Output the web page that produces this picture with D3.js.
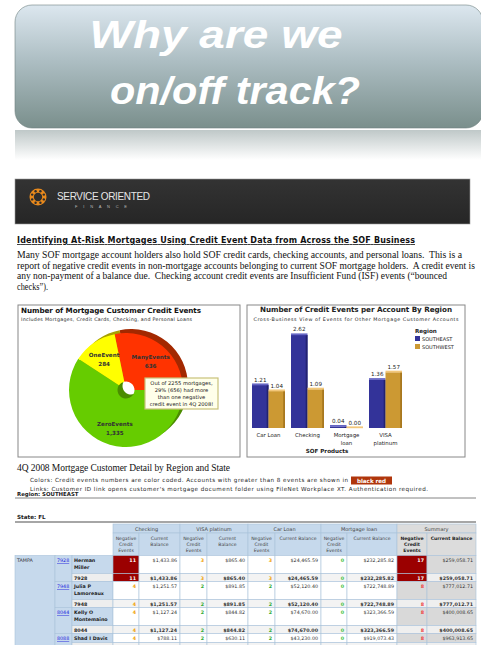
<!DOCTYPE html>
<html>
<head>
<meta charset="utf-8">
<script src="https://cdn.jsdelivr.net/npm/d3@7"></script>
<style>
body{margin:0;background:#fff;}
svg{display:block;}
</style>
</head>
<body>
<div id="slide"></div>
<script>
// pie : credit events per mortgage customer
var pieLabels = ["ManyEvents", "ZeroEvents", "OneEvent"];
var pieValues = [636, 1335, 284];
var pieValueText = ["636", "1,335", "284"];

// bars : events per account by region
var products = ["Car Loan", "Checking", "Mortgage loan", "VISA platinum"];
var productLines = [["Car Loan"], ["Checking"], ["Mortgage", "loan"], ["VISA", "platinum"]];
var regions = ["SOUTHEAST", "SOUTHWEST"];
var southeast = [1.21, 2.62, 0.04, 1.36];
var southwest = [1.04, 1.09, 0.00, 1.57];

// detail table
var tableGroups = ["Checking", "VISA platinum", "Car Loan", "Mortgage loan", "Summary"];
var customerCity = "TAMPA";
var customerIds = ["7928", "7948", "8044", "8088"];
var customerNames = [["Herman", "Miller"], ["Julia P", "Lamoreaux"], ["Kelly O", "Montemaino"], ["Shad I Davis"]];
var customerEvents = [[11, 3, 3, 0, 17], [4, 2, 2, 0, 8], [4, 2, 2, 0, 8], [4, 2, 2, 0, 8]];
var customerBalances = [
  ["$1,433.86", "$865.40", "$24,465.59", "$232,285.82", "$259,058.71"],
  ["$1,251.57", "$891.85", "$52,120.40", "$722,748.89", "$777,012.71"],
  ["$1,127.24", "$844.82", "$74,670.00", "$323,366.59", "$400,008.65"],
  ["$788.11", "$630.11", "$43,230.00", "$919,073.43", "$963,913.65"]];

var W = 481, H = 645;
var svg = d3.select("#slide").append("svg").attr("width", W).attr("height", H);
var defs = svg.append("defs");

function grad(id, stops){
  var g = defs.append("linearGradient").attr("id", id).attr("x1", 0).attr("y1", 0).attr("x2", 0).attr("y2", 1);
  stops.forEach(function(s){ g.append("stop").attr("offset", s[0]).attr("stop-color", s[1]); });
}
grad("banner", [["0%", "#dce7ef"], ["45%", "#adbec3"], ["100%", "#7a8f8c"]]);
grad("reflect", [["0%", "#bfc8c8"], ["100%", "#ffffff"]]);
grad("header", [["0%", "#333"], ["100%", "#262626"]]);

function txt(g, x, y, s, o){
  o = o || {};
  var t = g.append("text").attr("x", x).attr("y", y).text(s)
    .attr("font-family", o.family || "DejaVu Sans")
    .attr("font-size", o.size || 6)
    .attr("fill", o.fill || "#222");
  if(o.weight) t.attr("font-weight", o.weight);
  if(o.style) t.attr("font-style", o.style);
  if(o.anchor) t.attr("text-anchor", o.anchor);
  if(o.len) t.attr("textLength", o.len).attr("lengthAdjust", o.adjust || "spacing");
  if(o.deco) t.attr("text-decoration", o.deco);
  return t;
}

// ---- slide title
svg.append("rect").attr("x", 15).attr("y", 130).attr("width", 470).attr("height", 30).attr("fill", "url(#reflect)");
svg.append("rect").attr("x", 15).attr("y", 5).attr("width", 468).attr("height", 123).attr("rx", 17)
  .attr("fill", "url(#banner)").attr("stroke", "#6f8280").attr("stroke-width", 0.6);
txt(svg, 216, 48, "Why are we", {family: "Liberation Sans", size: 39, weight: "bold", style: "italic", fill: "#fff", anchor: "middle", len: 253, adjust: "spacingAndGlyphs"});
txt(svg, 235, 104, "on/off track?", {family: "Liberation Sans", size: 39, weight: "bold", style: "italic", fill: "#fff", anchor: "middle", len: 250, adjust: "spacingAndGlyphs"});

// ---- report header bar
svg.append("rect").attr("x", 15).attr("y", 179).attr("width", 455).attr("height", 45)
  .attr("fill", "url(#header)").attr("stroke", "#999").attr("stroke-width", 0.6);
var logo = svg.append("g").attr("transform", "translate(38,197)");
logo.append("circle").attr("r", 8.5).attr("fill", "#e8891c");
logo.append("circle").attr("r", 4.2).attr("fill", "#2d2d2d");
d3.range(8).forEach(function(i){
  var a = i * Math.PI / 4 + Math.PI / 8;
  logo.append("circle").attr("cx", 6.3 * Math.cos(a)).attr("cy", 6.3 * Math.sin(a)).attr("r", 1.2).attr("fill", "#2d2d2d");
});
txt(svg, 57, 200, "SERVICE ORIENTED", {family: "Liberation Sans", size: 10, fill: "#e6e6e6", len: 93});
txt(svg, 75, 208, "F I N A N C E", {family: "Liberation Sans", size: 4, fill: "#bbb", len: 52});

// ---- intro
txt(svg, 17, 243, "Identifying At-Risk Mortgages Using Credit Event Data from Across the SOF Business",
  {size: 8, weight: "bold", fill: "#111", len: 398, deco: "underline"});
var para = [
  ["Many SOF mortgage account holders also hold SOF credit cards, checking accounts, and personal loans.  This is a", 445],
  ["report of negative credit events in non-mortgage accounts belonging to current SOF mortgage holders.  A credit event is", 458],
  ["any non-payment of a balance due.  Checking account credit events are Insufficient Fund (ISF) events (\u201cbounced", 430],
  ["checks\u201d).", 31]];
para.forEach(function(p, i){
  txt(svg, 17, 258 + i * 10.5, p[0], {family: "Liberation Serif", size: 9.4, fill: "#111", len: p[1], adjust: "spacingAndGlyphs"})
    .style("white-space", "pre");
});

// ---- pie panel
var pp = svg.append("g");
pp.append("rect").attr("x", 18).attr("y", 305).attr("width", 222).attr("height", 152)
  .attr("fill", "#fff").attr("stroke", "#888").attr("stroke-width", 1);
txt(pp, 21, 313, "Number of Mortgage Customer Credit Events", {size: 7.2, weight: "bold", fill: "#111", len: 180});
txt(pp, 21, 321, "Includes Mortgages, Credit Cards, Checking, and Personal Loans", {size: 4.8, fill: "#222", len: 171});

var pieColors = d3.scaleOrdinal().domain(pieLabels).range(["#ff3300", "#66cc00", "#ffff00"]);
var pieDark = d3.scaleOrdinal().domain(pieLabels).range(["#a32800", "#4b8c00", "#a8a000"]);
var total = d3.sum(pieValues);
var start = Math.PI / 2 - 2 * Math.PI * pieValues[0] / total;
var pie = d3.pie().sort(null).startAngle(start).endAngle(start + 2 * Math.PI);
var arcs = pie(pieValues);
var arc = d3.arc().innerRadius(8.5).outerRadius(57);
var labelArc = d3.arc().innerRadius(39).outerRadius(39);
var cx = 126, cy = 390;
pp.append("g").attr("transform", "translate(" + (cx + 5) + "," + (cy - 4) + ")")
  .selectAll("path").data(arcs).enter().append("path")
  .attr("d", arc).attr("fill", function(d, i){ return pieDark(pieLabels[i]); });
var pg = pp.append("g").attr("transform", "translate(" + cx + "," + cy + ")");
pg.selectAll("path").data(arcs).enter().append("path")
  .attr("d", arc).attr("fill", function(d, i){ return pieColors(pieLabels[i]); });
arcs.forEach(function(d, i){
  var c = labelArc.centroid(d);
  txt(pg, c[0], c[1] - 1, pieLabels[i], {size: 5.6, weight: "bold", fill: "#333", anchor: "middle"});
  txt(pg, c[0], c[1] + 8, pieValueText[i], {size: 5.6, weight: "bold", fill: "#333", anchor: "middle"});
});
// callout
pp.append("rect").attr("x", 145).attr("y", 378).attr("width", 73).attr("height", 31)
  .attr("fill", "#ffffea").attr("stroke", "#c9c27a").attr("stroke-width", 1.2);
["Out of 2255 mortgages,", "29% (656) had more", "than one negative", "credit event in 4Q 2008!"].forEach(function(s, i){
  txt(pp, 181.5, 385 + i * 7, s, {size: 5.2, fill: "#222", anchor: "middle"});
});

// ---- bar panel
var bp = svg.append("g");
bp.append("rect").attr("x", 247).attr("y", 305).attr("width", 218).attr("height", 152)
  .attr("fill", "#fff").attr("stroke", "#888").attr("stroke-width", 1);
txt(bp, 356, 312, "Number of Credit Events per Account By Region", {size: 7.2, weight: "bold", fill: "#222", anchor: "middle", len: 192});
txt(bp, 356, 321, "Cross-Business View of Events for Other Mortgage Customer Accounts", {size: 4.8, fill: "#222", anchor: "middle", len: 205});

var x0 = d3.scaleBand().domain(products).range([252, 402]).paddingInner(0.154);
var x1 = d3.scaleBand().domain(regions).range([0, x0.bandwidth()]);
var y = d3.scaleLinear().domain([0, 3]).range([428, 321.5]);
var regionFill = d3.scaleOrdinal().domain(regions).range(["#333399", "#cc9933"]);
var regionTop = d3.scaleOrdinal().domain(regions).range(["#6666c4", "#f2c77a"]);
var regionSide = d3.scaleOrdinal().domain(regions).range(["#222270", "#a8781f"]);
var barData = [];
products.forEach(function(p, i){
  barData.push({p: p, r: regions[0], v: southeast[i]});
  barData.push({p: p, r: regions[1], v: southwest[i]});
});
var bars = bp.selectAll("g.bar").data(barData).enter().append("g").attr("class", "bar")
  .attr("transform", function(d){ return "translate(" + (x0(d.p) + x1(d.r)) + ",0)"; });
var bw = x1.bandwidth();
bars.append("rect").attr("y", function(d){ return y(d.v); }).attr("width", bw)
  .attr("height", function(d){ return y(0) - y(d.v); }).attr("fill", function(d){ return regionFill(d.r); });
bars.append("rect").attr("x", bw - 1.8).attr("y", function(d){ return y(d.v); }).attr("width", 1.8)
  .attr("height", function(d){ return y(0) - y(d.v); }).attr("fill", function(d){ return regionSide(d.r); });
bars.append("rect").attr("y", function(d){ return y(d.v) - 1.6; }).attr("width", bw).attr("height", 1.8)
  .attr("fill", function(d){ return regionTop(d.r); });
bars.append("text").attr("x", bw / 2).attr("y", function(d){ return y(d.v) - 3.5; })
  .attr("text-anchor", "middle").attr("font-family", "DejaVu Sans").attr("font-size", 5.6).attr("fill", "#222")
  .text(function(d){ return d3.format(".2f")(d.v); });
products.forEach(function(p, i){
  productLines[i].forEach(function(s, j){
    txt(bp, x0(p) + x0.bandwidth() / 2, 437 + j * 7.5, s, {size: 5.4, fill: "#222", anchor: "middle"});
  });
});
txt(bp, 327, 453, "SOF Products", {size: 5.6, weight: "bold", fill: "#222", anchor: "middle"});
txt(bp, 415, 333, "Region", {size: 5.6, weight: "bold", fill: "#222"});
regions.forEach(function(r, i){
  bp.append("rect").attr("x", 415).attr("y", 336 + i * 8).attr("width", 5).attr("height", 5).attr("fill", regionFill(r));
  txt(bp, 422, 341 + i * 8, r, {size: 5, fill: "#222"});
});

// ---- detail notes
txt(svg, 17, 471, "4Q 2008 Mortgage Customer Detail by Region and State", {family: "Liberation Serif", size: 9.5, fill: "#111", len: 213});
txt(svg, 30, 482, "Colors:  Credit events numbers are color coded.  Accounts with greater than 8 events are shown in", {size: 5.6, fill: "#222", len: 318});
svg.append("rect").attr("x", 351).attr("y", 476.5).attr("width", 41).attr("height", 8).attr("fill", "#b0360c");
txt(svg, 371.5, 482.5, "black red", {size: 5.6, weight: "bold", fill: "#fff", anchor: "middle"});
txt(svg, 30, 490.5, "Links:  Customer ID link opens customer's mortgage document folder using FileNet Workplace XT.  Authentication required.", {size: 5.6, fill: "#222", len: 398});
txt(svg, 17, 496, "Region: SOUTHEAST", {size: 5.4, weight: "bold", fill: "#222"});
svg.append("line").attr("x1", 15).attr("x2", 476).attr("y1", 498).attr("y2", 498).attr("stroke", "#666").attr("stroke-width", 0.8);
txt(svg, 17, 518.5, "State: FL", {size: 5.6, weight: "bold", fill: "#222"});
svg.append("line").attr("x1", 15).attr("x2", 476).attr("y1", 522).attr("y2", 522).attr("stroke", "#888").attr("stroke-width", 1.5);

// ---- detail table
var colX = [15, 55, 72, 113, 139, 180, 207, 248, 275, 321, 347, 397, 427, 476];
var tb = svg.append("g");
var blue = "#c6d9ec", gridCol = "#a9c2da";
function cell(x, yy, w, h, fill){
  tb.append("rect").attr("x", x).attr("y", yy).attr("width", w).attr("height", h)
    .attr("fill", fill).attr("stroke", gridCol).attr("stroke-width", 0.6);
}
tableGroups.forEach(function(g, i){
  var a = colX[3 + 2 * i], b = colX[5 + 2 * i], m = colX[4 + 2 * i];
  var f = g === "Summary" ? "#dcdcdc" : blue;
  cell(a, 524, b - a, 9, f);
  txt(tb, (a + b) / 2, 531, g, {size: 5, fill: "#444", anchor: "middle"});
  cell(a, 533, m - a, 22.5, f);
  cell(m, 533, b - m, 22.5, f);
  ["Negative", "Credit", "Events"].forEach(function(s, j){
    txt(tb, (a + m) / 2, 539.5 + j * 6, s, {size: 4.6, fill: g === "Summary" ? "#222" : "#444", weight: g === "Summary" ? "bold" : null, anchor: "middle"});
  });
  var cb = i < 2 ? ["Current", "Balance"] : ["Current Balance"];
  cb.forEach(function(s, j){
    txt(tb, (m + b) / 2, 539.5 + j * 6, s, {size: 4.6, fill: g === "Summary" ? "#222" : "#444", weight: g === "Summary" ? "bold" : null, anchor: "middle"});
  });
});

function eventStyle(v){
  if(v > 8) return {bg: "#9b0000", fg: "#fff"};
  if(v === 8) return {bg: null, fg: "#f03a3a"};
  if(v >= 3) return {bg: null, fg: "#f0a000"};
  if(v >= 1) return {bg: null, fg: "#2faa2f"};
  return {bg: null, fg: "#3cc03c"};
}

var rowY = 555.5;
var tableTop = rowY;
cell(colX[0], tableTop, colX[1] - colX[0], H - tableTop + 5, blue);
txt(tb, 17, tableTop + 6.5, customerCity, {size: 4.8, fill: "#333"});
customerIds.forEach(function(id, k){
  var nameH = customerNames[k].length > 1 ? 18 : 9;
  var subH = 8;
  cell(colX[1], rowY, colX[2] - colX[1], nameH + subH, blue);
  txt(tb, 57, rowY + 6.5, id, {size: 4.8, fill: "#2222dd", deco: "underline"});
  [0, 1].forEach(function(sub){
    var yy = sub ? rowY + nameH : rowY;
    var h = sub ? subH : nameH;
    var show = yy + 7 < H - 1;   // rows below the page edge are cut off in the source
    cell(colX[2], yy, colX[3] - colX[2], h, sub ? "#eeeeee" : blue);
    if(show){
      if(sub) txt(tb, 74, yy + 6, id, {size: 4.8, weight: "bold", fill: "#222"});
      else customerNames[k].forEach(function(s, j){
        txt(tb, 74, yy + 6.5 + j * 7, s, {size: 4.8, weight: "bold", fill: "#222"});
      });
    }
    tableGroups.forEach(function(g, i){
      var a = colX[3 + 2 * i], m = colX[4 + 2 * i], b = colX[5 + 2 * i];
      var v = customerEvents[k][i];
      var st = eventStyle(v);
      var base = g === "Summary" ? (sub ? "#efefef" : "#d9d9d9") : (sub ? "#f3f3f3" : "#ffffff");
      cell(a, yy, m - a, h, st.bg || base);
      cell(m, yy, b - m, h, base);
      if(!show) return;
      txt(tb, m - 3, yy + 6.3, v, {size: 4.8, weight: "bold", fill: st.fg, anchor: "end"});
      txt(tb, b - 3, yy + 6.3, customerBalances[k][i], {size: 4.8, weight: sub ? "bold" : null, fill: "#333", anchor: "end"});
    });
  });
  rowY += nameH + subH;
});
</script>
</body>
</html>
